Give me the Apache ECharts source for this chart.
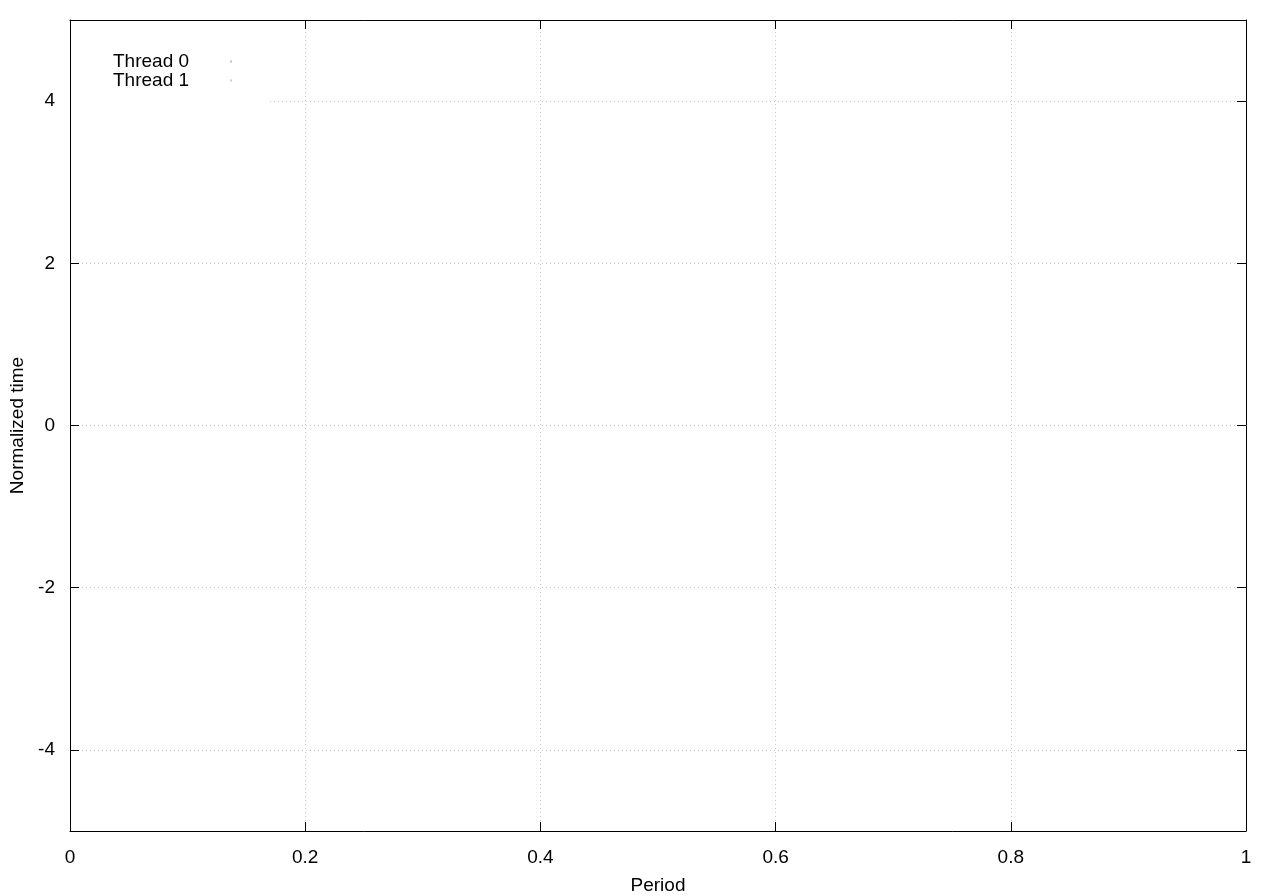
<!DOCTYPE html>
<html>
<head>
<meta charset="utf-8">
<script src="https://cdn.jsdelivr.net/npm/echarts@6/dist/echarts.min.js"></script>
<style>html,body{margin:0;padding:0;background:#fff}#c{width:1280px;height:896px}</style>
</head>
<body>
<div id="c"></div>
<script>
const seriesNames = ['Thread 0', 'Thread 1'];
const thread0 = [];
const thread1 = [];
const xTicks = [0, 0.2, 0.4, 0.6, 0.8, 1];
const yTicks = [-4, -2, 0, 2, 4];

const font = 'Liberation Sans, Arial, Helvetica, sans-serif';
const fs = 19;
const chart = echarts.init(document.getElementById('c'));
const gridLine = { show: true, lineStyle: { color: '#c8c8c8', type: [1, 3], width: 1 } };
const axLine = { show: true, onZero: false, lineStyle: { color: '#000', width: 1 } };
const tick = (vals) => ({ show: true, inside: true, length: 9, lineStyle: { color: '#000', width: 1 }, customValues: vals });
// legend marker: an empty move-to at the left and a tiny dot at the far right
const legendIcon = 'path://M0,0Z M38,0 h2 v2 h-2 Z';
chart.setOption({
  animation: false,
  backgroundColor: '#fff',
  grid: { left: 70, right: 34, top: 20, bottom: 65, containLabel: false, outerBoundsMode: 'none' },
  legend: {
    orient: 'vertical', left: 71, top: 21, align: 'right',
    padding: [31, 38, 12, 42], itemGap: 0, itemWidth: 38, itemHeight: 2,
    backgroundColor: '#fff', icon: legendIcon,
    textStyle: { fontFamily: font, fontSize: fs, color: '#000' },
    data: seriesNames
  },
  xAxis: [
    { type: 'value', min: 0, max: 1, interval: 0.2, position: 'bottom',
      name: 'Period', nameLocation: 'middle', nameGap: 45,
      nameTextStyle: { fontFamily: font, fontSize: fs, color: '#000' },
      axisLine: axLine, axisTick: tick(xTicks), splitLine: gridLine,
      axisLabel: { fontFamily: font, fontSize: fs, color: '#000', margin: 17, customValues: xTicks,
        formatter: v => String(+v.toFixed(1)) } },
    { type: 'value', min: 0, max: 1, interval: 0.2, position: 'top',
      axisLine: axLine, axisTick: tick(xTicks), axisLabel: { show: false }, splitLine: { show: false } }
  ],
  yAxis: [
    { type: 'value', min: -5, max: 5, interval: 1, position: 'left',
      name: 'Normalized time', nameLocation: 'middle', nameGap: 37, nameRotate: 90,
      nameTextStyle: { fontFamily: font, fontSize: fs, color: '#000' },
      axisLine: axLine, axisTick: tick(yTicks), splitLine: gridLine,
      axisLabel: { fontFamily: font, fontSize: fs, color: '#000', margin: 15, customValues: yTicks } },
    { type: 'value', min: -5, max: 5, interval: 1, position: 'right',
      axisLine: axLine, axisTick: tick(yTicks), axisLabel: { show: false }, splitLine: { show: false } }
  ],
  series: [
    { name: seriesNames[0], type: 'scatter', data: thread0, symbolSize: 2, itemStyle: { color: '#b8a0c8' } },
    { name: seriesNames[1], type: 'scatter', data: thread1, symbolSize: 2, itemStyle: { color: '#a8c8bc' } }
  ]
});
</script>
</body>
</html>
